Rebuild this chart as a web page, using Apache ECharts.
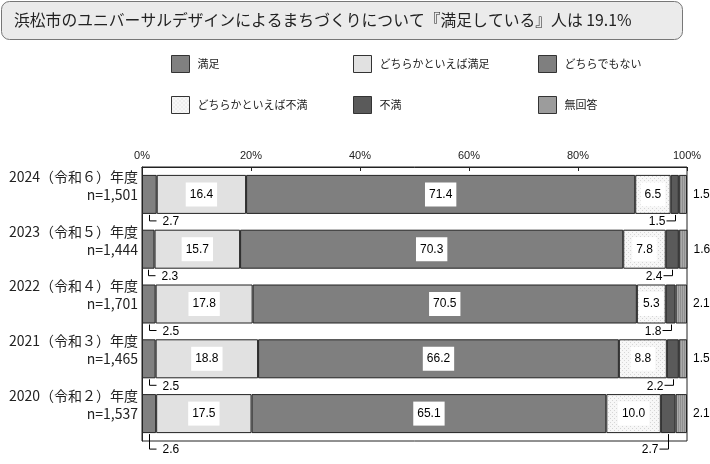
<!DOCTYPE html>
<html lang="ja">
<head>
    <meta charset="UTF-8">
    <title>ユニバーサルデザインによるまちづくり</title>
    <script src="https://cdn.jsdelivr.net/npm/echarts@6/dist/echarts.min.js"></script>
    <style>
        html, body { margin: 0; padding: 0; background: #fff; }
    </style>
</head>
<body>
    <div id="main" style="width: 710px;height: 464px"></div>
    <script>
        // 年度とサンプル数
        var years = ['2024（令和６）年度', '2023（令和５）年度', '2022（令和４）年度', '2021（令和３）年度', '2020（令和２）年度'];
        var sampleSizes = ['1,501', '1,444', '1,701', '1,465', '1,537'];

        // 回答の割合（%）
        var satisfied = [2.7, 2.3, 2.5, 2.5, 2.6];
        var somewhatSatisfied = [16.4, 15.7, 17.8, 18.8, 17.5];
        var neutral = [71.4, 70.3, 70.5, 66.2, 65.1];
        var somewhatDissatisfied = [6.5, 7.8, 5.3, 8.8, 10.0];
        var dissatisfied = [1.5, 2.4, 1.8, 2.2, 2.7];
        var noAnswer = [1.5, 1.6, 2.1, 1.5, 2.1];

        var titleText = '浜松市のユニバーサルデザインによるまちづくりについて『満足している』人は 19.1%';

        var JP = '"Noto Sans CJK JP", "Noto Sans", sans-serif';
        var NUM = '"Liberation Sans", Arial, sans-serif';
        var BAR_W = 39;

        // 模様（キャンバスで作る）
        function pattern(w, h, draw) {
            var c = document.createElement('canvas');
            c.width = w; c.height = h;
            draw(c.getContext('2d'));
            return { image: c, repeat: 'repeat' };
        }
        var dotFill = pattern(4, 4, function (g) {
            g.fillStyle = '#f7f7f7'; g.fillRect(0, 0, 4, 4);
            g.fillStyle = '#d6d6d6'; g.fillRect(0, 0, 1, 1); g.fillRect(2, 2, 1, 1);
        });
        var stripeFill = pattern(2, 2, function (g) {
            g.fillStyle = '#8f8f8f'; g.fillRect(0, 0, 1, 2);
            g.fillStyle = '#a9a9a9'; g.fillRect(1, 0, 1, 2);
        });

        // 3行目を空けて、2行目がバーの中心に来るようにする
        var categories = years.map(function (y, i) { return y + '\nn=' + sampleSizes[i] + '\n '; });

        // 注記用データ（値の位置 = 区間の中央）
        var leftNotes = satisfied.map(function (v, i) { return [v / 2, i, v]; });
        var rightNotes = dissatisfied.map(function (v, i) {
            var before = satisfied[i] + somewhatSatisfied[i] + neutral[i] + somewhatDissatisfied[i];
            return [before + v / 2, i, v];
        });

        function noteRenderer(side) {
            return function (params, api) {
                var pt = api.coord([api.value(0), api.value(1)]);
                var yb = pt[1] + BAR_W / 2;
                var drop = params.dataIndex === years.length - 1 ? 16 : 7;
                var x = Math.round(pt[0]) + 0.5;
                var dx = side === 'left' ? 7 : -9;
                return {
                    type: 'group',
                    children: [{
                        type: 'polyline',
                        shape: { points: [[x, yb + 1], [x, yb + drop], [x + dx, yb + drop]] },
                        style: { stroke: '#000', lineWidth: 1, fill: null }
                    }, {
                        type: 'text',
                        style: {
                            x: side === 'left' ? x + dx + 6 : x + dx - 1,
                            y: yb + drop + 1,
                            text: api.value(2).toFixed(1),
                            align: side === 'left' ? 'left' : 'right',
                            verticalAlign: 'middle',
                            fontSize: 12,
                            fontFamily: NUM,
                            fill: '#000'
                        }
                    }]
                };
            };
        }

        function boxLabel() {
            return {
                show: true,
                position: 'inside',
                backgroundColor: '#fff',
                padding: [6, 4],
                color: '#000',
                fontSize: 12,
                fontFamily: NUM,
                formatter: function (p) { return p.value.toFixed(1); }
            };
        }

        function barSeries(name, data, color, label) {
            return {
                name: name,
                type: 'bar',
                stack: 'total',
                barWidth: BAR_W,
                data: data,
                itemStyle: { color: color, borderColor: '#222', borderWidth: 1 },
                label: label || { show: false },
                emphasis: { disabled: true },
                animation: false
            };
        }

        function legendAt(name, left, top) {
            return {
                data: [{ name: name, icon: 'rect' }],
                left: left,
                top: top,
                itemWidth: 18,
                itemHeight: 17,
                itemStyle: { borderColor: '#333', borderWidth: 1 },
                textStyle: { fontSize: 11, fontFamily: JP, color: '#222', padding: [0, 0, 0, 3] },
                selectedMode: false
            };
        }

        var mCharts = echarts.init(document.getElementById('main'));
        var option = {
            backgroundColor: '#fff',
            animation: false,
            graphic: [{
                type: 'rect',
                left: 1,
                top: 1,
                shape: { width: 681, height: 38, r: 8 },
                style: { fill: '#ebebeb', stroke: '#777', lineWidth: 1 }
            }, {
                type: 'text',
                left: 14,
                top: 12,
                style: { text: titleText, fontSize: 15.8, fontFamily: JP, fill: '#222' }
            }],
            legend: [
                legendAt('満足', 166, 50),
                legendAt('どちらかといえば満足', 348, 50),
                legendAt('どちらでもない', 533, 50),
                legendAt('どちらかといえば不満', 166, 91),
                legendAt('不満', 348, 91),
                legendAt('無回答', 533, 91)
            ],
            grid: {
                left: 142,
                right: 23,
                top: 167,
                bottom: 23,
                show: true,
                borderColor: '#222',
                borderWidth: 1
            },
            xAxis: {
                type: 'value',
                position: 'top',
                min: 0,
                max: 100,
                interval: 20,
                axisLine: { show: true, lineStyle: { color: '#222' } },
                axisTick: { show: true, inside: true, length: 4, lineStyle: { color: '#222' } },
                splitLine: { show: false },
                axisLabel: { formatter: '{value}%', fontSize: 11, fontFamily: NUM, color: '#222', margin: 6 }
            },
            yAxis: {
                type: 'category',
                inverse: true,
                data: categories,
                axisLine: { show: true, lineStyle: { color: '#222' } },
                axisTick: { show: false },
                axisLabel: {
                    fontSize: 14,
                    fontFamily: JP,
                    color: '#222',
                    lineHeight: 18,
                    align: 'right',
                    margin: 4
                }
            },
            series: [
                barSeries('満足', satisfied, '#808080'),
                barSeries('どちらかといえば満足', somewhatSatisfied, '#e1e1e1', boxLabel()),
                barSeries('どちらでもない', neutral, '#7f7f7f', boxLabel()),
                barSeries('どちらかといえば不満', somewhatDissatisfied, dotFill, boxLabel()),
                barSeries('不満', dissatisfied, '#5a5a5a'),
                barSeries('無回答', noAnswer, stripeFill, {
                    show: true,
                    position: 'right',
                    distance: 6,
                    color: '#000',
                    fontSize: 12,
                    fontFamily: NUM,
                    formatter: function (p) { return p.value.toFixed(1); }
                }),
                {
                    name: 'note-left',
                    type: 'custom',
                    clip: false,
                    z: 5,
                    encode: { x: 0, y: 1 },
                    data: leftNotes,
                    renderItem: noteRenderer('left')
                },
                {
                    name: 'note-right',
                    type: 'custom',
                    clip: false,
                    z: 5,
                    encode: { x: 0, y: 1 },
                    data: rightNotes,
                    renderItem: noteRenderer('right')
                }
            ]
        };
        mCharts.setOption(option);
    </script>
</body>
</html>
